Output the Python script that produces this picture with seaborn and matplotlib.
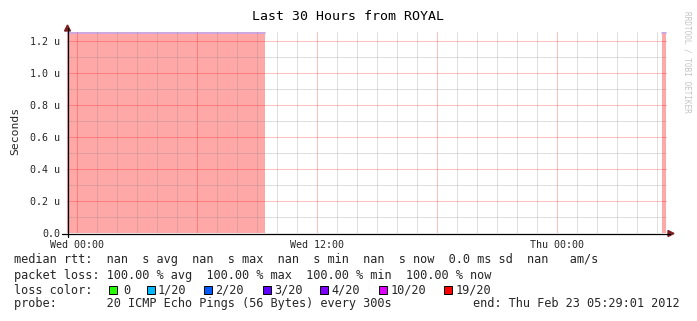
import matplotlib
matplotlib.use("Agg")
import numpy as np
import pandas as pd
import seaborn as sns
import matplotlib.pyplot as plt
from matplotlib.ticker import MultipleLocator, FuncFormatter
from matplotlib.patches import Rectangle, Polygon
from matplotlib.lines import Line2D

# ---------------- data ----------------
title = "Last 30 Hours from ROYAL"
ylabel = "Seconds"
watermark = "RRDTOOL / TOBI OETIKER"
x_range = (-0.5, 29.5)              # hours relative to Wed 00:00
x_label_hours = [0, 12, 24]
x_labels = ["Wed 00:00", "Wed 12:00", "Thu 00:00"]
y_ticks = [0.0, 0.2, 0.4, 0.6, 0.8, 1.0, 1.2]
y_tick_labels = ["0.0", "0.2 u", "0.4 u", "0.6 u", "0.8 u", "1.0 u", "1.2 u"]
y_top = 1.256
loss_start_h = [-0.5, 29.25]
loss_end_h = [9.4, 29.45]
loss_pct = [100.0, 100.0]

legend_line1 = "median rtt:  nan  s avg  nan  s max  nan  s min  nan  s now  0.0 ms sd  nan   am/s"
legend_line2 = "packet loss: 100.00 % avg  100.00 % max  100.00 % min  100.00 % now"
legend_line3_label = "loss color:"
loss_color_labels = ["0", "1/20", "2/20", "3/20", "4/20", "10/20", "19/20"]
loss_colors = ["#26ff00", "#00b8ff", "#0059ff", "#5e00ff", "#7e00ff", "#dd00ff", "#ff0000"]
legend_line4_left = "probe:       20 ICMP Echo Pings (56 Bytes) every 300s"
legend_line4_right = "end: Thu Feb 23 05:29:01 2012"

# ---------------- figure ----------------
W, H = 697, 321
sns.set_style("white")
plt.rcParams["font.family"] = ["DejaVu Sans Mono", "DejaVu Sans"]
fig = plt.figure(figsize=(W / 100, H / 100), dpi=100)
fig.patch.set_facecolor("white")

def px(x, y):
    return (x / W, 1 - y / H)

L, R, T, B = 67, 667, 32, 233
ax = fig.add_axes([L / W, 1 - B / H, (R - L) / W, (B - T) / H])
ax.set_facecolor("white")

fill_color = "#ffa8a8"
for s, e, p in zip(loss_start_h, loss_end_h, loss_pct):
    if p > 0:
        ax.fill_between([s, e], 0, y_top, color=fill_color, lw=0, zorder=1)

df = pd.DataFrame({
    "seg": np.repeat(np.arange(len(loss_start_h)), 2),
    "h": np.ravel(np.column_stack([loss_start_h, loss_end_h])),
    "y": y_top - 0.006,
})
sns.lineplot(data=df, x="h", y="y", units="seg", estimator=None,
             color="#c8a8e8", lw=1.3, ax=ax, zorder=1.5)

ax.set_xlim(*x_range)
ax.set_ylim(0, y_top)
ax.set_xlabel("")
ax.set_ylabel("")

ax.xaxis.set_major_locator(MultipleLocator(6))
ax.xaxis.set_minor_locator(MultipleLocator(1))
lab_map = dict(zip(x_label_hours, x_labels))
ax.xaxis.set_major_formatter(FuncFormatter(lambda v, pos: lab_map.get(int(round(v)), "") if abs(v - round(v)) < 1e-6 else ""))
ax.set_yticks(y_ticks)
ax.set_yticklabels(y_tick_labels)
ax.yaxis.set_minor_locator(MultipleLocator(0.1))

ax.tick_params(axis="both", which="major", labelsize=7.2, length=1.5, width=0.7,
               color="black", direction="out")
ax.tick_params(axis="x", which="major", pad=3.6)
ax.tick_params(axis="y", which="major", pad=3.2)
ax.tick_params(axis="both", which="minor", length=0)

ax.set_axisbelow(False)
ax.grid(which="minor", color="#808080", alpha=0.25, lw=0.72)
ax.grid(which="major", color="#ff0000", alpha=0.25, lw=0.72)
for sp in ax.spines.values():
    sp.set_visible(False)

# axes lines with arrows
axis_col = "black"
arrow_col = "#7f1f1f"
fig.add_artist(Line2D(*zip(px(67.5, 237), px(67.5, 28)), color=axis_col, lw=0.9, transform=fig.transFigure))
fig.add_artist(Line2D(*zip(px(62, 233.5), px(670, 233.5)), color=axis_col, lw=0.9, transform=fig.transFigure))
fig.add_artist(Polygon([px(64.5, 31), px(70.5, 31), px(67.5, 25)], closed=True,
                       color=arrow_col, transform=fig.transFigure))
fig.add_artist(Polygon([px(668, 230.5), px(668, 236.5), px(674, 233.5)], closed=True,
                       color=arrow_col, transform=fig.transFigure))

# titles
fig.text(*px(348, 17), title, ha="center", va="center", fontsize=9.5, color="black")
fig.text(*px(15, 131), ylabel, ha="center", va="center", rotation=90, fontsize=8.2)
fig.text(*px(687, 62), watermark, ha="center", va="center", rotation=270,
         fontsize=5.6, color="#c4c4c4")

# legend
fs = 8.54
fig.text(*px(14.5, 260), legend_line1, ha="left", va="center", fontsize=fs)
fig.text(*px(14.5, 275), legend_line2, ha="left", va="center", fontsize=fs)
fig.text(*px(14.5, 290), legend_line3_label, ha="left", va="center", fontsize=fs)
box_x = [109.3, 146.7, 204, 263.3, 320, 379, 444]
text_x = [123.5, 157.5, 215.5, 274, 331, 390.5, 455.5]
for bx, tx, lab, c in zip(box_x, text_x, loss_color_labels, loss_colors):
    x0, y0 = px(bx, 294)
    fig.add_artist(Rectangle((x0, y0), 8 / W, 8 / H, facecolor=c, edgecolor="black",
                             lw=0.7, transform=fig.transFigure))
    fig.text(*px(tx, 290), lab, ha="left", va="center", fontsize=fs)
fig.text(*px(14.5, 303.5), legend_line4_left, ha="left", va="center", fontsize=fs)
fig.text(*px(680, 303.5), legend_line4_right, ha="right", va="center", fontsize=fs)

fig.savefig("out.png", dpi=100, facecolor="white")
